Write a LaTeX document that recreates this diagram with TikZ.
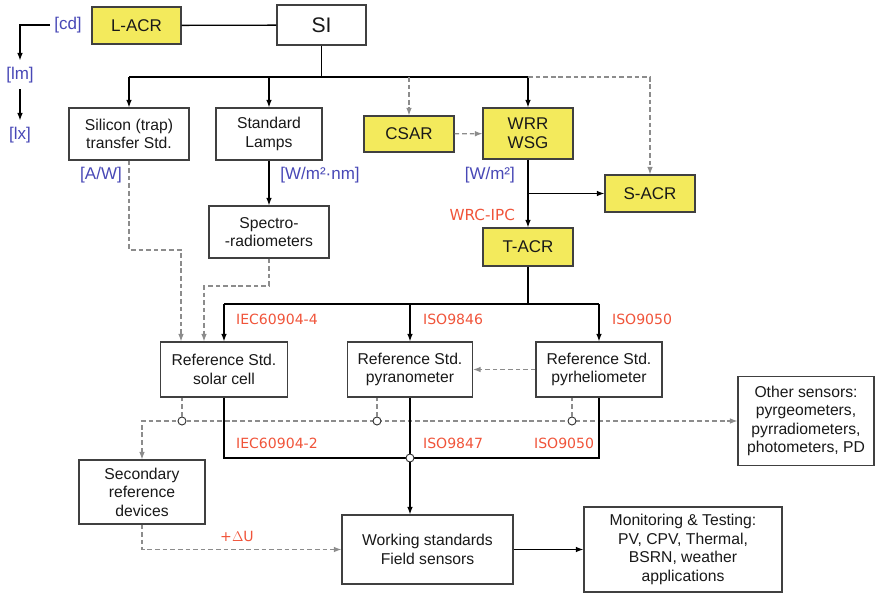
\documentclass[tikz,border=0pt]{standalone}
\usepackage{fontspec}
\setmainfont{Liberation Sans}
\newfontfamily\stdfont{DejaVu Sans}
\usetikzlibrary{arrows,arrows.meta,calc}
\definecolor{acryellow}{RGB}{243,234,92}
\definecolor{unitblue}{RGB}{72,72,182}
\definecolor{stdred}{RGB}{240,84,58}
\definecolor{linkgray}{RGB}{140,140,140}

\begin{document}
\begin{tikzpicture}[
x=0.03cm, y=-0.03cm, >={Latex[length=2.3mm,width=1.7mm]},
font=\fontsize{13.4}{15.8}\selectfont,
box-node/.style = {draw=black!75, line width=0.9pt, fill=white, text=black!90, align=center, inner sep=1pt},
acr-node/.style = {box-node, fill=acryellow, font=\fontsize{14.5}{16.5}\selectfont},
unit-label/.style = {text=unitblue, font=\fontsize{14.5}{16}\selectfont},
std-label/.style = {text=stdred, font=\stdfont\fontsize{12}{13.5}\selectfont},
main-line/.style = {line width=1.1pt, black},
main-link/.style = {main-line, ->},
weak-line/.style = {line width=1pt, linkgray, dash pattern=on 4pt off 2.5pt},
weak-link/.style = {weak-line, ->},
tap-node/.style = {circle, draw=black!80, line width=0.8pt, fill=white, inner sep=0pt, minimum size=2.4mm}
]
\useasboundingbox (0,0) rectangle (876,594);

\node [box-node, minimum width=2.67cm, minimum height=1.2cm, font=\fontsize{18}{20}\selectfont] (si) at (321.5,25) {SI};
\node [acr-node, minimum width=2.67cm, minimum height=1.11cm] (lacr) at (136.5,25.5) {L-ACR};
\node [box-node, minimum width=3.6cm, minimum height=1.56cm] (trap) at (129,134) {Silicon (trap)\\transfer Std.};
\node [box-node, minimum width=3.18cm, minimum height=1.56cm] (lamps) at (269,134) {Standard\\Lamps};
\node [acr-node, minimum width=2.7cm, minimum height=1.08cm] (csar) at (409,134) {CSAR};
\node [acr-node, minimum width=2.7cm, minimum height=1.53cm] (wrr) at (528,133.5) {WRR\\WSG};
\node [acr-node, minimum width=2.7cm, minimum height=1.11cm] (sacr) at (650,193.5) {S-ACR};
\node [acr-node, minimum width=2.7cm, minimum height=1.14cm] (tacr) at (528,247) {T-ACR};
\node [box-node, minimum width=3.6cm, minimum height=1.56cm] (spectro) at (269,232) {Spectro-\\-radiometers};
\node [box-node, minimum width=3.81cm, minimum height=1.65cm] (cell) at (224,369.5) {Reference Std.\\solar cell};
\node [box-node, minimum width=3.75cm, minimum height=1.65cm] (pyrano) at (410,369.5) {Reference Std.\\pyranometer};
\node [box-node, minimum width=3.78cm, minimum height=1.65cm] (pyrhelio) at (599,369.5) {Reference Std.\\pyrheliometer};
\node [box-node, minimum width=4.08cm, minimum height=2.67cm] (other) at (806,421) {Other sensors:\\pyrgeometers,\\pyrradiometers,\\photometers, PD};
\node [box-node, minimum width=3.78cm, minimum height=1.92cm] (second) at (142,492) {Secondary\\reference\\devices};
\node [box-node, minimum width=5.13cm, minimum height=2.07cm] (working) at (427.5,549.5) {Working standards\\Field sensors};
\node [box-node, minimum width=5.94cm, minimum height=2.55cm] (monitor) at (683,549.5) {Monitoring \& Testing:\\PV, CPV, Thermal,\\BSRN, weather\\applications};

% units
\node [unit-label] (cd) at (68,25) {[cd]};
\node [unit-label] (lm) at (20,75) {[lm]};
\node [unit-label] (lx) at (20,135) {[lx]};
\node [unit-label] (aw) at (101,175) {[A/W]};
\node [unit-label] (wnm) at (320,175) {[W/m²·nm]};
\node [unit-label, anchor=east] (wm) at (519,175) {[W/m²]};

% standards
\node [std-label, anchor=east, font=\stdfont\fontsize{13}{14}\selectfont] (ipc) at (519,215) {WRC-IPC};
\node [std-label, anchor=west] (iec4) at (232,319) {IEC60904-4};
\node [std-label, anchor=west] (iso46) at (419,319) {ISO9846};
\node [std-label, anchor=west] (iso50a) at (608,319) {ISO9050};
\node [std-label, anchor=west] (iec2) at (232,443) {IEC60904-2};
\node [std-label, anchor=west] (iso47) at (419,443) {ISO9847};
\node [std-label, anchor=west] (iso50b) at (530,443) {ISO9050};
\node [std-label] (du) at (237,536) {+$\Delta$U};

% junctions
\coordinate (top-l) at (129,77);
\coordinate (top-r) at (528,77);
\coordinate (bus-l) at (224,304);
\coordinate (bus-r) at (599,304);
\coordinate (out-l) at (224,458);
\coordinate (trap-bend) at (181,250);
\coordinate (spectro-bend) at (204,286);

% arrows
\draw[main-line] (lacr) -- (si);
\draw[main-link, shorten >=2pt] (cd.west) -| (lm.north);
\draw[main-link, shorten <=2pt, shorten >=2pt] (lm) -- (lx);
\draw[main-line] (si.south) -- (si.south |- top-l);
\draw[main-line] (top-l) -- (top-r);
\draw[main-link] (top-l) -- (trap.north);
\draw[main-link] (lamps.north |- top-l) -- (lamps.north);
\draw[main-link] (top-r) -- (wrr.north);
\draw[weak-link] (csar.north |- top-l) -- (csar.north);
\draw[weak-link] (top-r) -| (sacr.north);
\draw[weak-link] (csar) -- (wrr);
\draw[main-link] (wrr) -- (tacr);
\draw[main-link] (wrr.south |- sacr.west) -- (sacr.west);
\draw[main-link] (lamps) -- (spectro);
\draw[weak-link] (trap.south) |- (trap-bend) -- (trap-bend |- cell.north);
\draw[weak-link] (spectro.south) |- (spectro-bend) -- (spectro-bend |- cell.north);
\draw[main-line] (tacr.south) -- (tacr.south |- bus-l);
\draw[main-line] (bus-l) -- (bus-r);
\draw[main-link] (bus-l) -- (cell.north);
\draw[main-link] (pyrano.north |- bus-l) -- (pyrano.north);
\draw[main-link] (bus-r) -- (pyrhelio.north);
\draw[weak-link] (pyrhelio.west) -- (pyrano.east);

% other sensors line
\draw[weak-line, <->] (second.north) |- (other.west);
\node [tap-node] (tap-cell) at (182,421) {};
\node [tap-node] (tap-pyrano) at (377,421) {};
\node [tap-node] (tap-pyrhelio) at (572,421) {};
\draw[weak-line] (tap-cell) -- (tap-cell |- cell.south);
\draw[weak-line] (tap-pyrano) -- (tap-pyrano |- pyrano.south);
\draw[weak-line] (tap-pyrhelio) -- (tap-pyrhelio |- pyrhelio.south);

% working standards
\draw[main-line] (cell.south) -- (out-l) -- (pyrhelio.south |- out-l) -- (pyrhelio.south);
\draw[main-line] (pyrano.south) -- (pyrano.south |- out-l);
\node [tap-node] (merge) at (pyrano.south |- out-l) {};
\draw[main-link] (merge) -- (merge |- working.north);
\draw[weak-link] (second.south) |- (working.west);
\draw[main-link] (working) -- (monitor);

\end{tikzpicture}
\end{document}
